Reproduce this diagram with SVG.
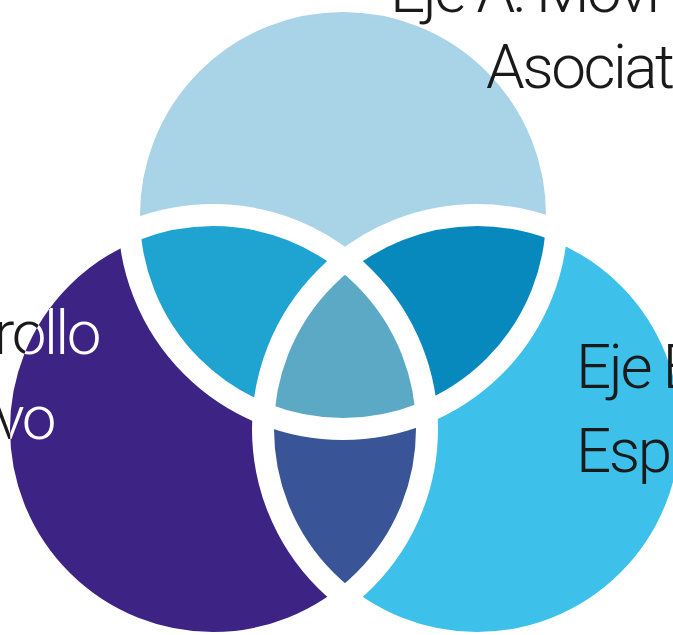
<svg xmlns="http://www.w3.org/2000/svg" width="673" height="635" viewBox="0 0 673 635">
  <defs>
    <clipPath id="clipTop"><circle cx="343" cy="215" r="214"/></clipPath>
    <clipPath id="clipLeft"><circle cx="213" cy="429" r="214"/></clipPath>
    <clipPath id="clipRight"><circle cx="477" cy="429" r="214"/></clipPath>
    <pattern id="leftTextFill" patternUnits="userSpaceOnUse" x="0" y="0" width="673" height="635">
      <rect x="0" y="0" width="673" height="635" fill="#1a1a1a"/>
      <circle cx="213" cy="429" r="203" fill="#ffffff"/>
    </pattern>
  </defs>
  <style>
    .ring { fill: none; stroke: #ffffff; stroke-width: 22; }
    .label { font-family: Roboto, "Liberation Sans", sans-serif; font-weight: 300; font-size: 62px; letter-spacing: -2.5px; fill: #1a1a1a; }
  </style>
  <rect x="0" y="0" width="673" height="635" fill="#ffffff"/>

  <g id="circle-top"><circle cx="343" cy="215" r="214" fill="#A9D4E8"/></g>
  <g id="circle-left"><circle cx="213" cy="429" r="214" fill="#3D2384"/></g>
  <g id="circle-right"><circle cx="477" cy="429" r="214" fill="#3DC0E9"/></g>

  <g id="lens-top-left" clip-path="url(#clipTop)"><circle cx="213" cy="429" r="214" fill="#1FA3D1"/></g>
  <g id="lens-top-right" clip-path="url(#clipTop)"><circle cx="477" cy="429" r="214" fill="#0889BD"/></g>
  <g id="lens-left-right" clip-path="url(#clipLeft)"><circle cx="477" cy="429" r="214" fill="#3A5597"/></g>
  <g id="center" clip-path="url(#clipLeft)">
    <g clip-path="url(#clipRight)"><circle cx="343" cy="215" r="214" fill="#5BA9C5"/></g>
  </g>

  <g id="rings">
    <circle class="ring" cx="343" cy="215" r="214"/>
    <circle class="ring" cx="213" cy="429" r="214"/>
    <circle class="ring" cx="477" cy="429" r="214"/>
  </g>

  <g id="label-top">
    <text class="label" x="390" y="12">Eje A: Movi</text>
    <text class="label" x="486" y="88">Asociat</text>
  </g>
  <g id="label-right">
    <text class="label" x="576" y="388">Eje B</text>
    <text class="label" x="576" y="472">Esp</text>
  </g>
  <g id="label-left">
    <text class="label" x="99" y="354" text-anchor="end" style="fill:url(#leftTextFill)">rollo</text>
    <text class="label" x="54" y="439" text-anchor="end" style="fill:url(#leftTextFill)">vo</text>
  </g>
</svg>
